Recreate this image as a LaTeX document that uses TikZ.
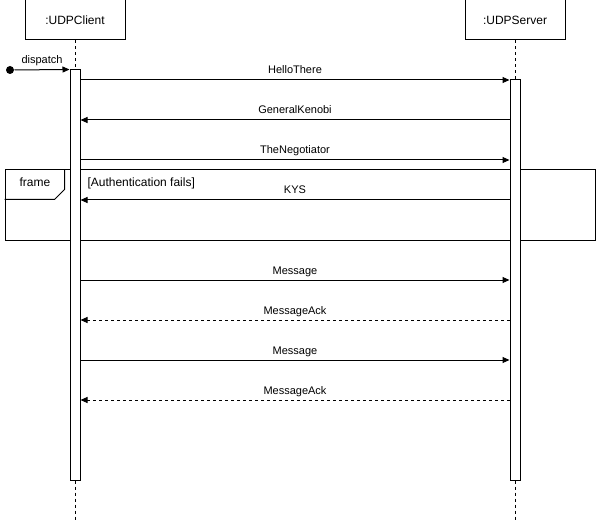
\documentclass[tikz,border=0pt]{standalone}
\usepackage{fontspec}
\setmainfont{Liberation Sans}
\usetikzlibrary{arrows.meta,positioning}

\begin{document}
\begin{tikzpicture}[x=1pt,y=-1pt,line width=1pt,>={Triangle[length=7pt,width=6pt]},node distance=339pt]
			\tikzstyle{object}=[draw,minimum width=100pt,minimum height=40pt,inner sep=0pt,font=\fontsize{12}{14}\selectfont]
			\tikzstyle{bar}=[draw,fill=white,minimum width=10pt,inner sep=0pt]
			\tikzstyle{life}=[dash pattern=on 3pt off 3pt]
			\tikzstyle{msg}=[->]
			\tikzstyle{reply}=[->,dash pattern=on 3pt off 3pt]
			\tikzstyle{lbl}=[font=\fontsize{11}{13}\selectfont,anchor=base,yshift=6pt,inner sep=0pt]
			\tikzstyle{cond}=[font=\fontsize{12}{14}\selectfont,inner sep=0pt]
			\useasboundingbox (0,0) rectangle (596,521);
			% participants
			\node[object]    (client) at (75,20)          {:UDPClient};
			\node[object]    (server) [right=of client]   {:UDPServer};
			% combined fragment
			\node[draw,minimum width=590pt,minimum height=70pt,inner sep=0pt] (alt) at (300,205) {};
			\draw (alt.north west) ++(0,30) -- ++(50,0) -- ++(10,-10) -- ++(0,-20);
			\node[cond,anchor=base]      (altname) at (35,187) {frame};
			\node[cond,anchor=base west] (guard)   at (87,187) {[Authentication fails]};
			% lifelines and activations
			\node[bar,minimum height=410pt] (actC) at (75,275) {};
			\node[bar,minimum height=400pt] (actS) at (515,280) {};
			\coordinate (endC) at (75,521);
			\coordinate (endS) at (515,521);
			\draw[life] (client.south) -- (actC.north);
			\draw[life] (server.south) -- (actS.north);
			\draw[life] (actC.south) -- (endC);
			\draw[life] (actS.south) -- (endS);
			% found message
			\node[circle,fill,inner sep=0pt,minimum size=8pt] (start) at (10,70) {};
			\draw[msg] (start) -- node[lbl] {dispatch} (actC.north west);
			% messages
			\coordinate (m1) at (0,80);
			\coordinate (m2) at (0,120);
			\coordinate (m3) at (0,160);
			\coordinate (m4) at (0,200);
			\coordinate (m5) at (0,280);
			\coordinate (m6) at (0,320);
			\coordinate (m7) at (0,360);
			\coordinate (m8) at (0,400);
			\draw[msg]   (actC.east |- m1) -- node[lbl] {HelloThere}    (actS.west |- m1);
			\draw[msg]   (actS.west |- m2) -- node[lbl] {GeneralKenobi} (actC.east |- m2);
			\draw[msg]   (actC.east |- m3) -- node[lbl] {TheNegotiator} (actS.west |- m3);
			\draw[msg]   (actS.west |- m4) -- node[lbl] {KYS}           (actC.east |- m4);
			\draw[msg]   (actC.east |- m5) -- node[lbl] {Message}       (actS.west |- m5);
			\draw[reply] (actS.west |- m6) -- node[lbl] {MessageAck}    (actC.east |- m6);
			\draw[msg]   (actC.east |- m7) -- node[lbl] {Message}       (actS.west |- m7);
			\draw[reply] (actS.west |- m8) -- node[lbl] {MessageAck}    (actC.east |- m8);
		\end{tikzpicture}
\end{document}
